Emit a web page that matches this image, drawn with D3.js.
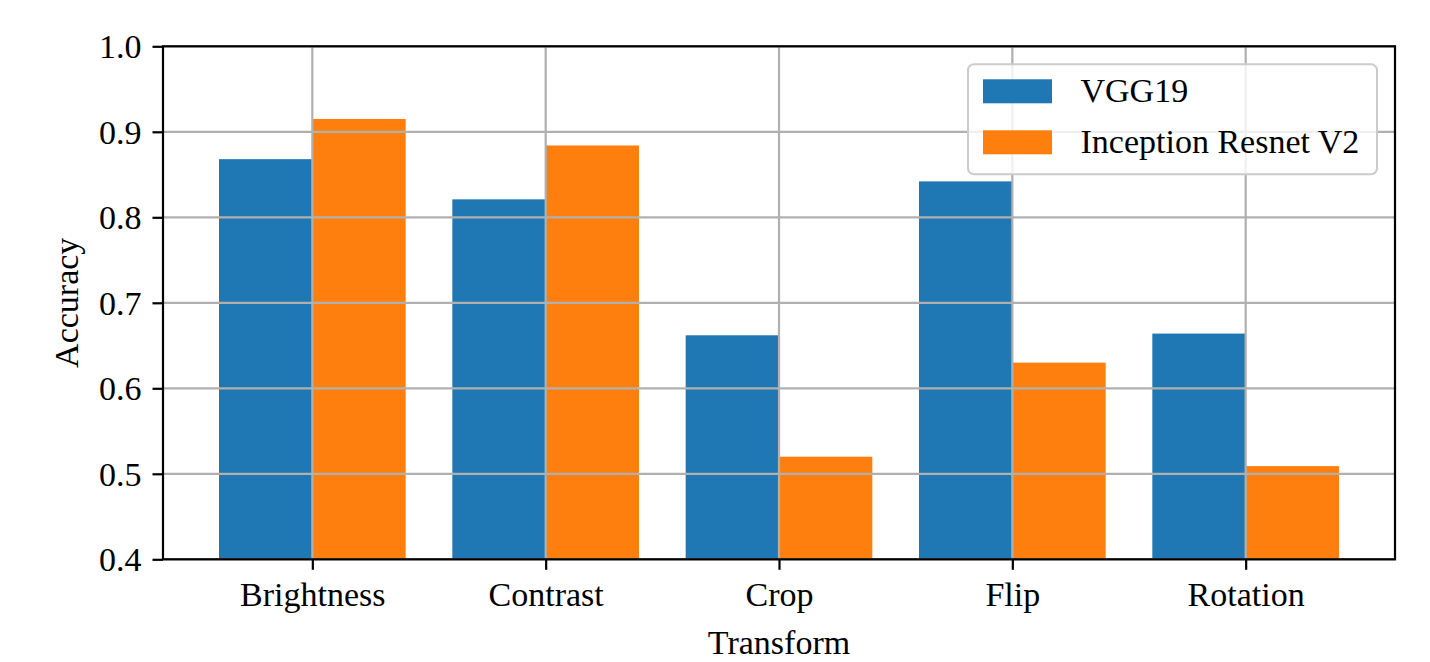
<!DOCTYPE html>
<html>
<head>
<meta charset="utf-8">
<script src="https://cdn.jsdelivr.net/npm/d3@7"></script>
<style>
  body { margin: 0; background: #fff; }
  svg { display: block; }
  text { font-family: "Liberation Serif", "Times New Roman", serif; fill: #000; }
</style>
</head>
<body>
<svg id="svg" width="1430" height="662"></svg>
<script>
// data
var transforms = ["Brightness", "Contrast", "Crop", "Flip", "Rotation"];
var vgg19 = [0.868, 0.821, 0.662, 0.842, 0.664];
var inception = [0.915, 0.884, 0.520, 0.630, 0.509];
var seriesNames = ["VGG19", "Inception Resnet V2"];
var seriesColors = ["#1f77b4", "#ff7f0e"];
var yTicks = [0.4, 0.5, 0.6, 0.7, 0.8, 0.9, 1.0];

var svg = d3.select("#svg");
var plotL = 163, plotR = 1395, plotT = 46.3, plotB = 559.3;
var fs = 34;

// matplotlib style x: category index, bar width 0.4, 5% margins
var x = d3.scaleLinear().domain([-0.64, 4.64]).range([plotL, plotR]);
var y = d3.scaleLinear().domain([0.4, 1.0]).range([plotB, plotT]);
var barW = 0.4;

// bars
var series = [vgg19, inception];
series.forEach(function(vals, s) {
  svg.append("g").selectAll("rect")
    .data(vals)
    .enter().append("rect")
    .attr("x", function(d, i) { return x(i - barW + s * barW); })
    .attr("width", x(barW) - x(0))
    .attr("y", function(d) { return y(d); })
    .attr("height", function(d) { return y(0.4) - y(d); })
    .attr("fill", seriesColors[s]);
});

// grid on top of bars
var grid = svg.append("g").attr("stroke", "#b0b0b0").attr("stroke-width", 2.2);
grid.selectAll("line.h").data(yTicks).enter().append("line")
  .attr("x1", plotL).attr("x2", plotR)
  .attr("y1", function(d) { return y(d); }).attr("y2", function(d) { return y(d); });
grid.selectAll("line.v").data(transforms).enter().append("line")
  .attr("y1", plotT).attr("y2", plotB)
  .attr("x1", function(d, i) { return x(i); }).attr("x2", function(d, i) { return x(i); });

// axes
var yAxis = d3.axisLeft(y).tickValues(yTicks).tickFormat(d3.format(".1f"))
  .tickSize(10.5).tickPadding(11);
var gy = svg.append("g").attr("transform", "translate(" + plotL + ",0)").call(yAxis);
var xAxis = d3.axisBottom(x).tickValues(d3.range(transforms.length))
  .tickFormat(function(i) { return transforms[i]; })
  .tickSize(10.5).tickPadding(12);
var gx = svg.append("g").attr("transform", "translate(0," + plotB + ")").call(xAxis);
[gx, gy].forEach(function(g) {
  g.select(".domain").remove();
  g.selectAll(".tick line").attr("stroke", "#000").attr("stroke-width", 2.2);
  g.selectAll(".tick text").attr("font-size", fs).attr("font-family", "Liberation Serif");
});
gy.selectAll(".tick text").attr("dy", "0.34em");

// spines
svg.append("rect")
  .attr("x", plotL).attr("y", plotT)
  .attr("width", plotR - plotL).attr("height", plotB - plotT)
  .attr("fill", "none").attr("stroke", "#000").attr("stroke-width", 2.2);

// axis labels
svg.append("text").attr("x", (plotL + plotR) / 2).attr("y", 654)
  .attr("text-anchor", "middle").attr("font-size", fs).text("Transform");
svg.append("text").attr("transform", "translate(78," + (plotT + plotB) / 2 + ") rotate(-90)")
  .attr("text-anchor", "middle").attr("font-size", fs).text("Accuracy");

// legend
var lg = svg.append("g");
lg.append("rect")
  .attr("x", 968).attr("y", 64.3).attr("width", 409).attr("height", 110)
  .attr("rx", 6).attr("ry", 6)
  .attr("fill", "#fff").attr("fill-opacity", 0.8)
  .attr("stroke", "#cccccc").attr("stroke-width", 2);
var items = lg.selectAll("g.item").data(seriesNames).enter().append("g")
  .attr("transform", function(d, i) { return "translate(0," + (i * 51) + ")"; });
items.append("rect")
  .attr("x", 983).attr("y", 79.3).attr("width", 69).attr("height", 24)
  .attr("fill", function(d, i) { return seriesColors[i]; });
items.append("text")
  .attr("x", 1080.5).attr("y", 102)
  .attr("font-size", fs)
  .text(function(d) { return d; });
</script>
</body>
</html>
